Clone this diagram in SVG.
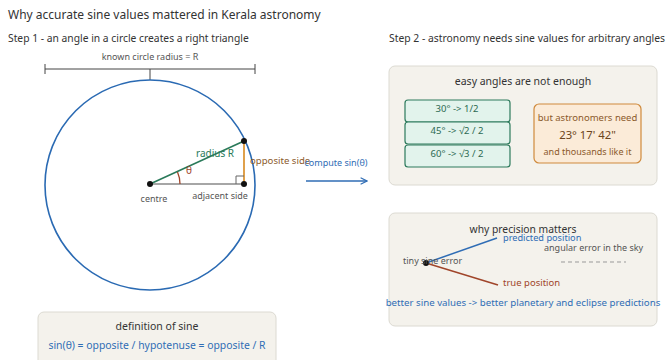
<svg xmlns="http://www.w3.org/2000/svg" width="668" height="360" viewBox="0 0 668 360">
<defs>
<style>
text{font-family:"Noto Sans","Open Sans","DejaVu Sans",sans-serif;}
.h1{font-size:12px;fill:#333;}
.h2{font-size:10.3px;fill:#333;}
.s{font-size:9px;fill:#555;}
.panel{fill:#f4f2ec;stroke:#dcdad2;stroke-width:1;}
.gbox{fill:#e2f3ec;stroke:#2c7a5c;stroke-width:1.2;}
.gt{font-size:9.5px;fill:#2c6a52;text-anchor:middle;}
.blue{fill:#2f6db5;}
.dot{fill:#111;}
</style>
<marker id="arr" viewBox="0 0 10 10" refX="9" refY="5" markerWidth="8" markerHeight="8" orient="auto" markerUnits="userSpaceOnUse">
<path d="M1,1 L9,5 L1,9" fill="none" stroke="#2f6db5" stroke-width="1.4"/>
</marker>
</defs>
<rect width="668" height="360" fill="#fff"/>
<text class="h1" x="8" y="19">Why accurate sine values mattered in Kerala astronomy</text>
<text class="h2" x="8" y="42">Step 1 - an angle in a circle creates a right triangle</text>
<text class="h2" x="389" y="42" textLength="276" lengthAdjust="spacingAndGlyphs">Step 2 - astronomy needs sine values for arbitrary angles</text>

<g id="radius-bar">
<text class="s" x="150" y="60" text-anchor="middle">known circle radius = R</text>
<path d="M45,69 H255 M45,64 V74 M255,64 V74 M150,69 V80" stroke="#444" stroke-width="1" fill="none"/>
</g>

<g id="circle">
<circle cx="150" cy="185" r="105" fill="none" stroke="#2a6ab3" stroke-width="1.6"/>
</g>

<g id="connectors">
<line x1="150" y1="184" x2="244" y2="184" stroke="#888" stroke-width="1.4"/>
<line x1="244" y1="141" x2="244" y2="184" stroke="#d8891f" stroke-width="1.6"/>
<line x1="150" y1="184" x2="244" y2="141" stroke="#2a7a5a" stroke-width="1.6"/>
<path d="M236,184 V176 H244" fill="none" stroke="#666" stroke-width="1"/>
<path d="M180,184 A30,30 0 0 0 177.5,172" fill="none" stroke="#a0452a" stroke-width="1.3"/>
<line x1="306" y1="181" x2="367" y2="181" stroke="#2f6db5" stroke-width="1.4" marker-end="url(#arr)"/>
</g>

<g id="triangle-labels">
<circle class="dot" cx="150" cy="184" r="3"/>
<circle class="dot" cx="244" cy="141" r="3"/>
<circle class="dot" cx="244" cy="184" r="3"/>
<text x="215" y="157" font-size="10" fill="#2a7a5a" text-anchor="middle">radius R</text>
<text x="189" y="174" font-size="10" fill="#a0452a" text-anchor="middle">θ</text>
<text x="250" y="164" font-size="9.6" fill="#8b5a2b">opposite side</text>
<text x="220" y="199" font-size="9" fill="#555" text-anchor="middle">adjacent side</text>
<text x="154" y="202" font-size="9" fill="#555" text-anchor="middle">centre</text>
<text x="336" y="166" font-size="9" class="blue" text-anchor="middle">compute sin(θ)</text>
</g>

<g id="easy-angles">
<rect class="panel" x="389" y="66" width="268" height="119" rx="6"/>
<text x="523" y="85" font-size="10.5" fill="#333" text-anchor="middle">easy angles are not enough</text>
</g>
<g id="angle-30">
<rect class="gbox" x="405" y="100" width="105" height="22" rx="3"/>
<text class="gt" x="457" y="112">30° -&gt; 1/2</text>
</g>
<g id="angle-45">
<rect class="gbox" x="405" y="122" width="105" height="22" rx="3"/>
<text class="gt" x="457" y="134">45° -&gt; √2 / 2</text>
</g>
<g id="angle-60">
<rect class="gbox" x="405" y="145" width="105" height="22" rx="3"/>
<text class="gt" x="457" y="157">60° -&gt; √3 / 2</text>
</g>
<g id="astronomers">
<rect x="534" y="104" width="107" height="59" rx="5" fill="#fbebd8" stroke="#cf8a3c" stroke-width="1.2"/>
<text x="587.5" y="121" font-size="9.5" fill="#8b5a2b" text-anchor="middle">but astronomers need</text>
<text x="587.5" y="139" font-size="11.3" fill="#6b4520" text-anchor="middle">23° 17' 42"</text>
<text x="587.5" y="155" font-size="9" fill="#8b5a2b" text-anchor="middle">and thousands like it</text>
</g>

<g id="precision">
<rect class="panel" x="389" y="213" width="268" height="113" rx="6"/>
<text x="523" y="233" font-size="10.3" fill="#333" text-anchor="middle">why precision matters</text>
<line x1="426" y1="263" x2="497" y2="238" stroke="#2f6db5" stroke-width="1.5"/>
<line x1="426" y1="263" x2="498" y2="285" stroke="#a0452a" stroke-width="1.5"/>
<circle class="dot" cx="426" cy="263" r="3"/>
<text x="403" y="264" font-size="9" fill="#555">tiny sine error</text>
<text x="503" y="241" font-size="9.2" class="blue">predicted position</text>
<text x="544" y="251" font-size="9" fill="#555">angular error in the sky</text>
<line x1="561" y1="262" x2="626" y2="262" stroke="#999" stroke-width="1" stroke-dasharray="4,3"/>
<text x="503" y="286" font-size="9.5" fill="#a0452a">true position</text>
<text x="523" y="306" font-size="9.7" class="blue" text-anchor="middle">better sine values -&gt; better planetary and eclipse predictions</text>
</g>

<g id="definition">
<rect class="panel" x="38" y="312" width="238" height="60" rx="6"/>
<text x="157" y="330" font-size="10.5" fill="#333" text-anchor="middle">definition of sine</text>
<text x="157" y="349" font-size="10.4" class="blue" text-anchor="middle">sin(θ) = opposite / hypotenuse = opposite / R</text>
</g>
</svg>
